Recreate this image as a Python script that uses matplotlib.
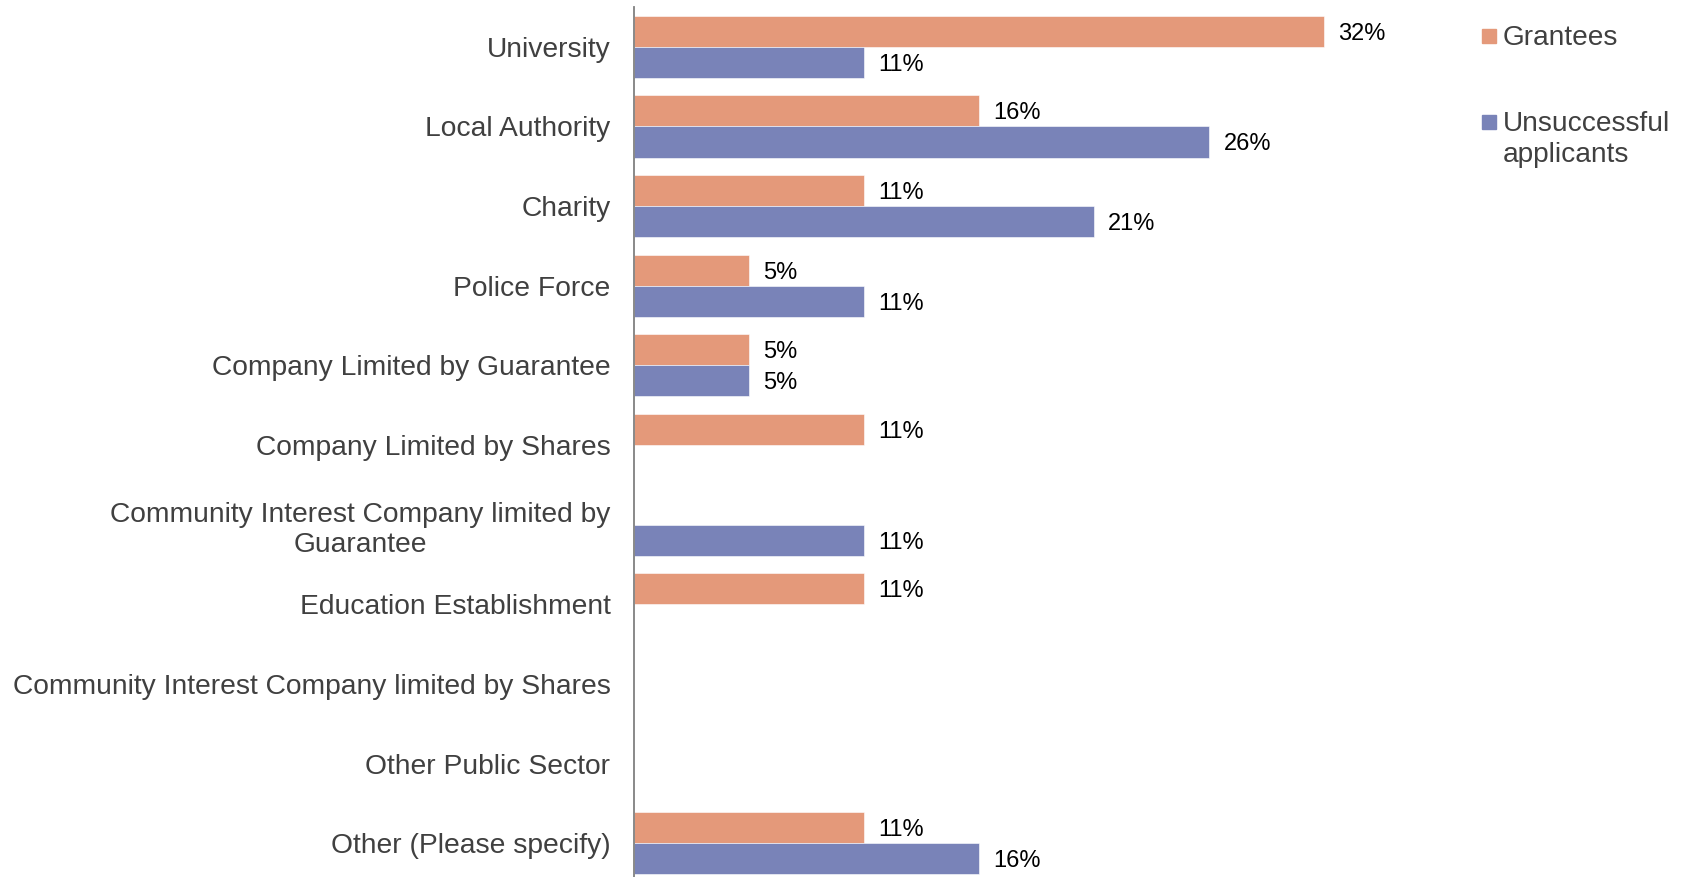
import numpy as np
import matplotlib.pyplot as plt
from matplotlib.patches import Rectangle

plt.rcParams['font.family'] = ['Liberation Sans', 'DejaVu Sans']

categories = [
    "University",
    "Local Authority",
    "Charity",
    "Police Force",
    "Company Limited by Guarantee",
    "Company Limited by Shares",
    "Community Interest Company limited by\nGuarantee",
    "Education Establishment",
    "Community Interest Company limited by Shares",
    "Other Public Sector",
    "Other (Please specify)",
]
# percentages (nan = no response)
grantees = [31.58, 15.79, 10.53, 5.26, 5.26, 10.53, np.nan, 10.53, np.nan, np.nan, 10.53]
unsuccessful = [10.53, 26.32, 21.05, 10.53, 5.26, np.nan, 10.53, np.nan, np.nan, np.nan, 15.79]
series_labels = ["Grantees", "Unsuccessful\napplicants"]
colors = ["#E4997A", "#7983B8"]

W, H = 1692, 877
fig = plt.figure(figsize=(W / 100, H / 100), dpi=100)
ax = fig.add_axes([634 / W, -6 / H, 765 / W, 876 / H])

y = np.arange(len(categories))
bh = 0.39
for vals, off, col in [(grantees, -bh / 2, colors[0]), (unsuccessful, bh / 2, colors[1])]:
    vals = np.array(vals, dtype=float)
    ax.barh(y + off, np.nan_to_num(vals), height=bh, color=col, edgecolor="white", linewidth=0.4)
    for yi, v in zip(y + off, vals):
        if not np.isnan(v):
            ax.text(v + 0.65, yi, f"{v:.0f}%", va="center_baseline", ha="left", fontsize=17, color="black")

ax.set_xlim(0, 35)
ax.set_ylim(len(categories) - 0.5, -0.5)
ax.set_yticks(y)
ax.set_yticklabels(categories, fontsize=20.3, color="#404040", multialignment="center")
ax.tick_params(axis="y", length=0, pad=17)
ax.set_xticks([])
for s in ["top", "right", "bottom"]:
    ax.spines[s].set_visible(False)
ax.spines["left"].set_color("#808080")
ax.spines["left"].set_linewidth(1.3)

# legend drawn by hand to keep marker beside first line
leg_y = [36, 122]
for lab, col, ly in zip(series_labels, colors, leg_y):
    fig.patches.append(Rectangle((1482 / W, 1 - (ly + 7) / H), 14 / W, 14 / H,
                                 transform=fig.transFigure, color=col))
    fig.text(1503 / W, 1 - (ly - 11) / H, lab, fontsize=20.2, color="#404040",
             va="top", ha="left", linespacing=1.24)

fig.savefig("out.png", dpi=100)
